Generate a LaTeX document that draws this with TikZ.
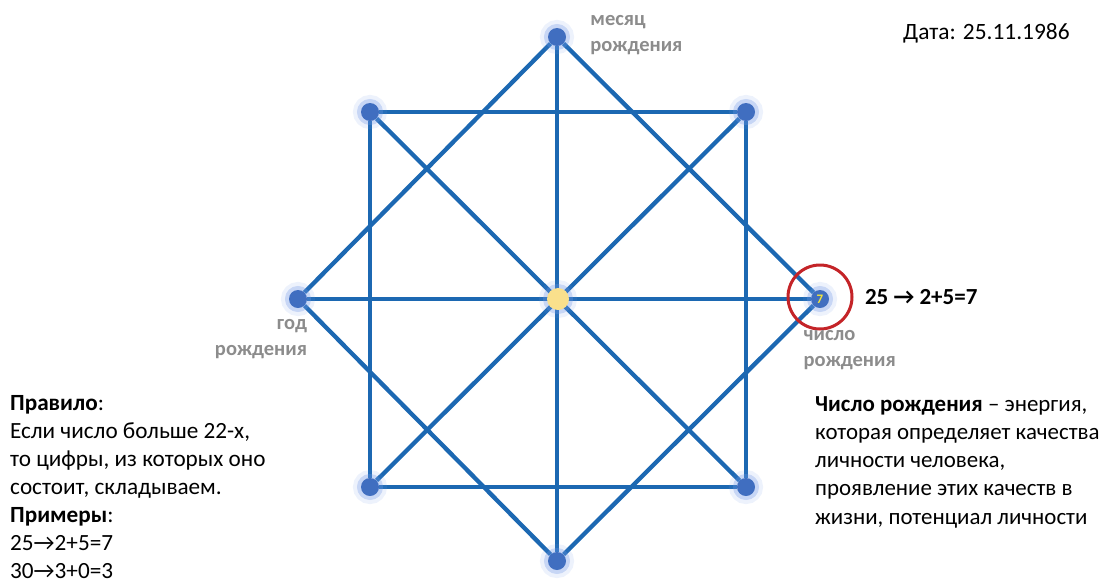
\documentclass[tikz,border=0pt]{standalone}
\usepackage{fontspec}
\setmainfont{Carlito}
\usetikzlibrary{positioning,backgrounds}

\definecolor{linecol}{RGB}{28,104,178}
\definecolor{dotcol}{RGB}{64,110,192}
\definecolor{glowcol}{RGB}{110,150,230}
\definecolor{hubcol}{RGB}{250,224,140}
\definecolor{labelgray}{RGB}{140,140,140}
\definecolor{ringcol}{RGB}{196,36,40}
\definecolor{numcol}{RGB}{240,228,60}

\begin{document}
\begin{tikzpicture}[
    x=1pt, y=-1pt,
    dot/.style={circle, fill=dotcol, minimum size=18pt, inner sep=0pt,
                preaction={draw=glowcol, line width=16pt, draw opacity=0.12},
                preaction={draw=glowcol, line width=8pt, draw opacity=0.3}},
    hub/.style={dot, fill=hubcol, minimum size=22pt},
    link/.style={draw=linecol, line width=4.3pt},
    ring/.style={circle, draw=ringcol, line width=3pt, minimum size=64pt,
                 inner sep=0pt},
    lbl/.style={text=labelgray, font=\fontsize{20.5}{26}\selectfont\bfseries,
                inner sep=0pt},
    txt/.style={font=\fontsize{23.2}{28}\selectfont, align=left, inner sep=0pt}
]
\useasboundingbox (0,0) rectangle (1109,582);

% star points
\node[dot] (month) at (557,37) {};
\node[dot] (nw) at (370,112) {};
\node[dot] (ne) at (746,112) {};
\node[dot] (year) at (298,299) {};
\node[dot] (birth) at (820,299) {\fontsize{13}{13}\selectfont\bfseries\textcolor{numcol}{7}};
\node[dot] (sw) at (370,487) {};
\node[dot] (se) at (746,487) {};
\node[dot] (bottom) at (557,561) {};
\node[hub] (hub) at (558,299) {};

\begin{scope}[on background layer]
\draw[link] (month) -- (year) -- (bottom) -- (birth) -- (month);
\draw[link] (nw) -- (ne) -- (se) -- (sw) -- (nw);
\draw[link] (nw) -- (se);
\draw[link] (ne) -- (sw);
\draw[link] (month) -- (bottom);
\draw[link] (year) -- (birth);
\end{scope}

\node[ring] (mark) at (820,297) {};

% labels
\node[lbl, align=left, right=24pt of month, yshift=2pt] (monthlbl) {месяц\\рождения};
\node[lbl, align=right, below=11pt of year, xshift=-37pt] (yearlbl) {год\\рождения};
\node[lbl, align=left, below right=25pt and -23pt of birth] (birthlbl) {число\\рождения};
\node[font=\fontsize{23}{23}\selectfont\bfseries, right=8pt of mark] (calc) {25 → 2+5=7};
\node[font=\fontsize{23.4}{23}\selectfont, anchor=west, inner sep=0pt] (date) at (903,33) {Дата: 25.11.1986};

\node[txt, anchor=north west] (rule) at (10,395) {\textbf{Правило}:\\
Если число больше 22-х,\\
то цифры, из которых оно\\
состоит, складываем.\\
\textbf{Примеры}:\\
25→2+5=7\\
30→3+0=3};

\node[txt, font=\fontsize{22.9}{28.3}\selectfont, anchor=north west] (info) at (815,396) {\textbf{Число рождения} – энергия,\\
которая определяет качества\\
личности человека,\\
проявление этих качеств в\\
жизни, потенциал личности};
\end{tikzpicture}
\end{document}
